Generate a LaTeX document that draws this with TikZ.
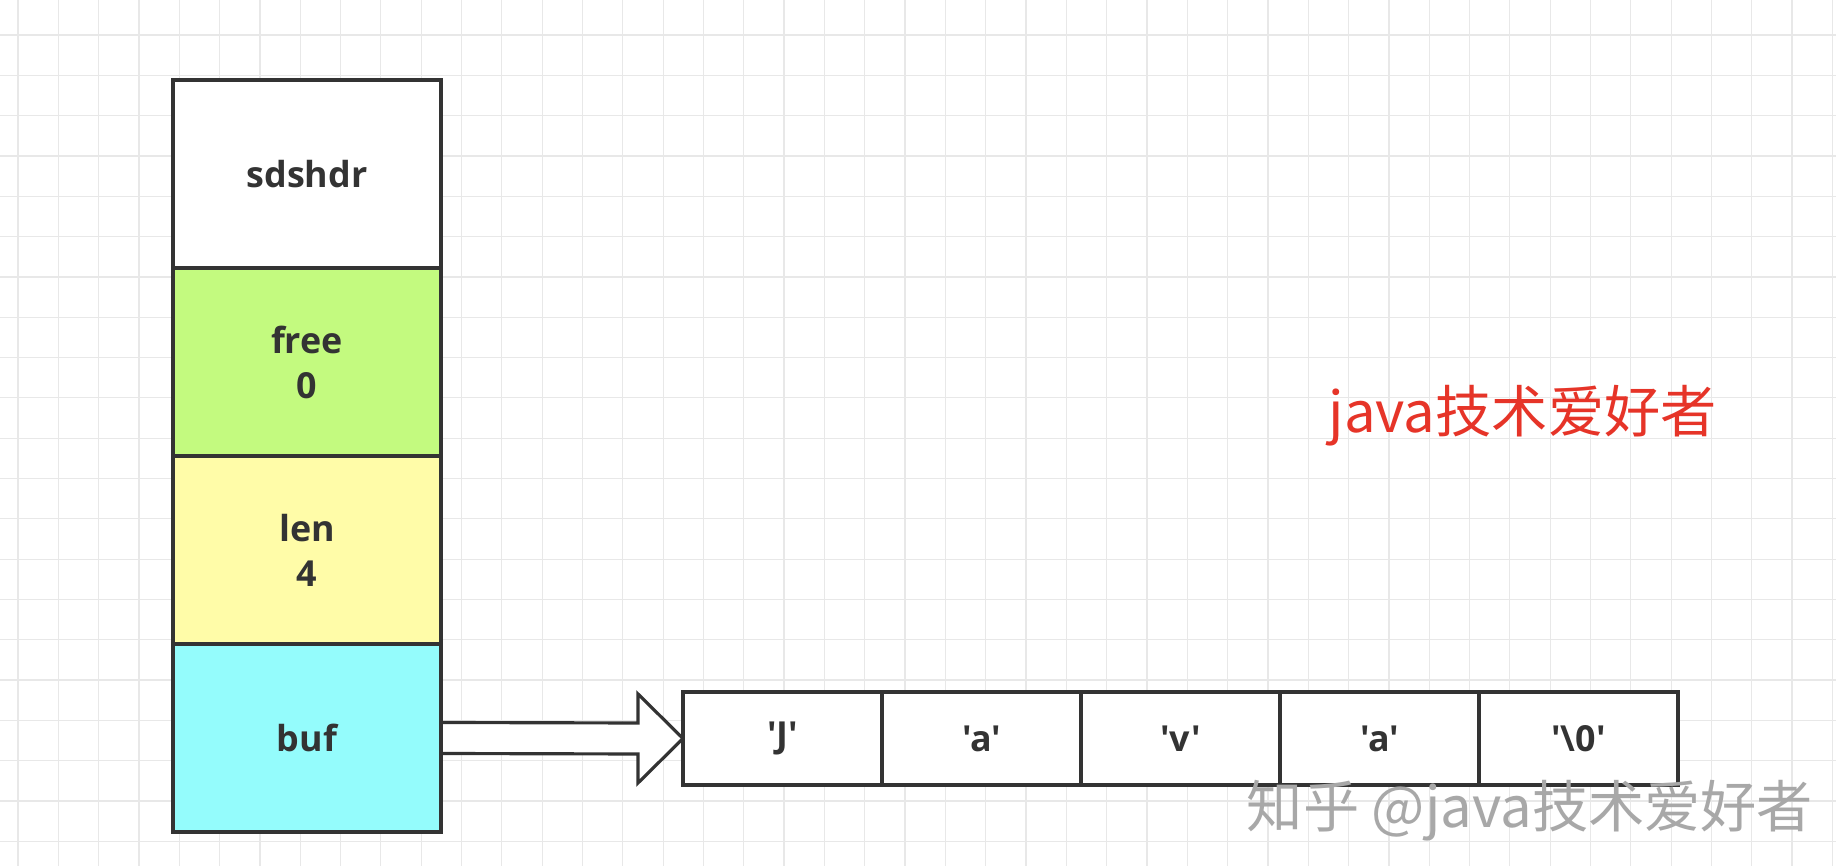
\documentclass[tikz,border=0pt]{standalone}
\usepackage{fontspec}
\usetikzlibrary{calc,backgrounds}
\newfontfamily\opensans{Open Sans}[Ligatures=TeXOff]
\newfontfamily\cjk{Noto Sans CJK SC}
\definecolor{gridc}{RGB}{232,232,232}
\definecolor{linec}{RGB}{51,51,51}
\definecolor{textc}{RGB}{51,51,51}
\definecolor{greenc}{RGB}{195,250,127}
\definecolor{yellowc}{RGB}{255,252,168}
\definecolor{cyanc}{RGB}{148,252,252}
\definecolor{redc}{RGB}{230,52,40}
\definecolor{wmc}{RGB}{168,168,168}
\newcommand\lblfont{\opensans\bfseries\fontsize{10.2}{12.8}\selectfont}
\tikzset{
  field/.style={draw=linec, line width=1.1pt, minimum width=26.8mm, minimum height=18.8mm,
    inner sep=0pt, outer sep=0pt, font=\lblfont, text=textc, align=center},
  cell/.style={draw=linec, line width=1pt, fill=white, minimum width=19.9mm, minimum height=9.3mm,
    inner sep=0pt, outer sep=0pt, font=\lblfont, text=textc},
  blockarrow/.style={draw=linec, line width=0.9pt, fill=white, line join=miter},
  gridline/.style={draw=gridc, line width=0.35pt},
}
\begin{document}
\begin{tikzpicture}[x=0.1mm,y=-0.1mm]
\useasboundingbox (0,0) rectangle (1836,866);
\begin{pgfonlayer}{background}
\fill[white] (0,0) rectangle (1836,866);
\foreach \i in {0,...,45} {
  \draw[gridline] ({18+40.32*\i},0) -- ({18+40.32*\i},866);
}
\foreach \j in {0,...,21} {
  \draw[gridline] (0,{-5.32+40.32*\j}) -- (1836,{-5.32+40.32*\j});
}
\end{pgfonlayer}
% left structure
\node[field, fill=white]   (hdr)  at (307,174) {sdshdr};
\node[field, fill=greenc]  (free) at (307,362) {free\\0};
\node[field, fill=yellowc] (len)  at (307,550) {len\\4};
\node[field, fill=cyanc]   (buf)  at (307,738) {buf};
% array cells
\node[cell] (c1) at (782.5,738.5)  {'J'};
\node[cell] (c2) at (981.5,738.5)  {'a'};
\node[cell] (c3) at (1180.5,738.5) {'v'};
\node[cell] (c4) at (1379.5,738.5) {'a'};
\node[cell] (c5) at (1578.5,738.5) {'\textbackslash0'};
% block arrow from buf to first cell (drawn beneath the boxes)
\begin{pgfonlayer}{background}
\draw[blockarrow]
  ($(buf.east)+(0,-15.5)$) -- ($(c1.west)+(-45,-15.5)$) -- ($(c1.west)+(-45,-44.5)$)
  -- (c1.west) -- ($(c1.west)+(-45,44.5)$) -- ($(c1.west)+(-45,15.5)$) -- ($(buf.east)+(0,15.5)$);
\end{pgfonlayer}
% labels
\node[text=redc, font=\cjk\fontsize{16}{19}\selectfont, inner sep=0pt, anchor=base west] (title) at (1328,433) {java技术爱好者};
\node[text=wmc, font=\cjk\fontsize{16}{19}\selectfont, inner sep=0pt] (wm) at (1530,811) {知乎 @java技术爱好者};
\end{tikzpicture}
\end{document}
